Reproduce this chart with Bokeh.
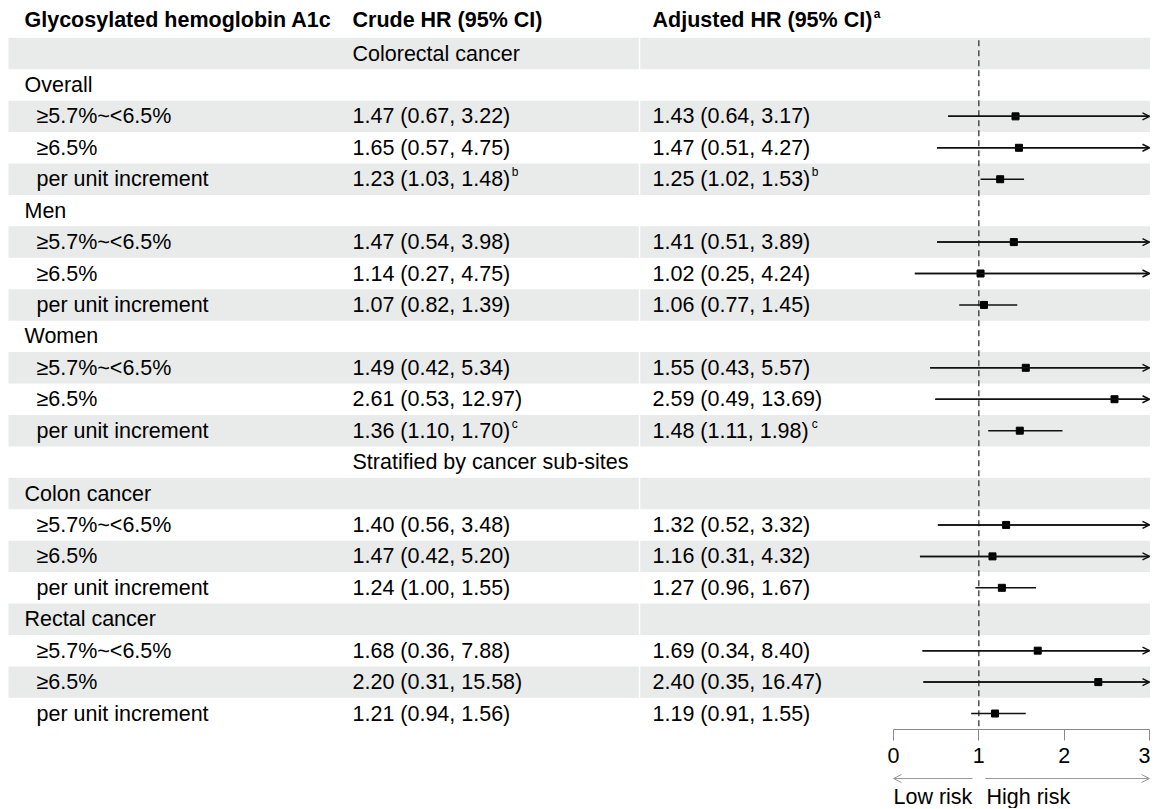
from bokeh.plotting import figure
from bokeh.models import (Range1d, LinearAxis, FixedTicker, ColumnDataSource,
                          Arrow, OpenHead, Span)
from bokeh.core.properties import value
from bokeh.embed import file_html
from bokeh.resources import INLINE

# ---------------- data ----------------
headers = ["Glycosylated hemoglobin A1c", "Crude HR (95% CI)", "Adjusted HR (95% CI)"]
header_note = "a"
sections = ["Colorectal cancer", "Stratified by cancer sub-sites"]
section_groups = [3, 2]
groups = ["Overall", "Men", "Women", "Colon cancer", "Rectal cancer"]
categories = ["≥5.7%~<6.5%", "≥6.5%", "per unit increment"]

crude_hr = [1.47, 1.65, 1.23, 1.47, 1.14, 1.07, 1.49, 2.61, 1.36, 1.40, 1.47, 1.24, 1.68, 2.20, 1.21]
crude_lo = [0.67, 0.57, 1.03, 0.54, 0.27, 0.82, 0.42, 0.53, 1.10, 0.56, 0.42, 1.00, 0.36, 0.31, 0.94]
crude_hi = [3.22, 4.75, 1.48, 3.98, 4.75, 1.39, 5.34, 12.97, 1.70, 3.48, 5.20, 1.55, 7.88, 15.58, 1.56]
adj_hr = [1.43, 1.47, 1.25, 1.41, 1.02, 1.06, 1.55, 2.59, 1.48, 1.32, 1.16, 1.27, 1.69, 2.40, 1.19]
adj_lo = [0.64, 0.51, 1.02, 0.51, 0.25, 0.77, 0.43, 0.49, 1.11, 0.52, 0.31, 0.96, 0.34, 0.35, 0.91]
adj_hi = [3.17, 4.27, 1.53, 3.89, 4.24, 1.45, 5.57, 13.69, 1.98, 3.32, 4.32, 1.67, 8.40, 16.47, 1.55]
notes = ["", "", "b", "", "", "", "", "", "c", "", "", "", "", "", ""]

x_ticks = [0, 1, 2, 3]
risk_labels = ["Low risk", "High risk"]

# ---------------- layout constants ----------------
FONT = "Liberation Sans"
FS = 21.5
SUP_FS = 12
W, H = 1150, 808
Y0, PITCH = 53.0, 31.43
BAND = "#e8ebea"
XMAX = 3.0
HR_PX0 = 893            # pixel position of HR = 0
HR_SCALE = 256 / 3      # pixels per HR unit

ARIAL = {**{d: 556 for d in "0123456789"}, ".": 278, " ": 278, "(": 333, ")": 333, ",": 278}
ARIAL_B = {"A": 722, "d": 611, "j": 278, "u": 611, "s": 556, "t": 333, "e": 556, " ": 278,
           "H": 722, "R": 722, "(": 333, "9": 556, "5": 556, "%": 889, "C": 722, "I": 278, ")": 333}


def tw(s, table):
    return sum(table.get(c, 556) for c in s) * FS / 1000.0


def fmt(h, l, u):
    return f"{h:.2f} ({l:.2f}, {u:.2f})"


# build table rows
label_txt, label_lvl, crude_txt, adj_txt, row_note, data_row, data_k = [], [], [], [], [], [], []
k = 0
gi = 0
for sec, ng in zip(sections, section_groups):
    label_txt.append(""); label_lvl.append(0); crude_txt.append(sec); adj_txt.append(""); row_note.append("")
    for g in groups[gi:gi + ng]:
        label_txt.append(g); label_lvl.append(0); crude_txt.append(""); adj_txt.append(""); row_note.append("")
        for c in categories:
            data_row.append(len(label_txt)); data_k.append(k)
            label_txt.append(c); label_lvl.append(1)
            crude_txt.append(fmt(crude_hr[k], crude_lo[k], crude_hi[k]))
            adj_txt.append(fmt(adj_hr[k], adj_lo[k], adj_hi[k]))
            row_note.append(notes[k])
            k += 1
    gi += ng

n_rows = len(label_txt)
rows_y = list(range(n_rows))
band_rows = [i for i in rows_y if i % 2 == 0]

HEADER_Y = (19 - Y0) / PITCH
AXIS_Y = (729 - Y0) / PITCH
ARROW_Y = (778 - Y0) / PITCH
RISK_Y = (796 - Y0) / PITCH

X_LBL = [24, 36]
X_CRUDE = 352
X_ADJ = 652

# ---------------- figure ----------------
p = figure(width=W, height=H, x_range=Range1d(0, W),
           y_range=Range1d((H - Y0) / PITCH, -Y0 / PITCH),
           x_axis_type=None, y_axis_type=None, output_backend="svg",
           toolbar_location=None, min_border=0, outline_line_color=None)
p.extra_x_ranges = {"hr": Range1d(-HR_PX0 / HR_SCALE, (W - HR_PX0) / HR_SCALE)}

p.hbar(y=band_rows, height=1, left=8, right=W, fill_color=BAND, line_color=None)
p.add_layout(Span(location=X_ADJ - 13, dimension="height", line_color="white", line_width=1.5))

txt_kw = dict(text_font=value(FONT), text_font_size=f"{FS}px", text_baseline="middle",
              text_align="left", text_color="#000000")

p.text(x=[X_LBL[l] for l in label_lvl], y=rows_y, text=label_txt, **txt_kw)
p.text(x=[X_CRUDE] * n_rows, y=rows_y, text=crude_txt, **txt_kw)
p.text(x=[X_ADJ] * n_rows, y=rows_y, text=adj_txt, **txt_kw)
p.text(x=[X_LBL[0], X_CRUDE, X_ADJ], y=[HEADER_Y] * 3, text=headers,
       text_font_style="bold", **txt_kw)

# superscripts
sup_x, sup_y, sup_t = [], [], []
for i, nt in enumerate(row_note):
    if nt:
        sup_x += [X_CRUDE + tw(crude_txt[i], ARIAL) + 1.5, X_ADJ + tw(adj_txt[i], ARIAL) + 1.5]
        sup_y += [i, i]
        sup_t += [nt, nt]
p.text(x=sup_x, y=sup_y, text=sup_t, text_font=value(FONT), text_font_size=f"{SUP_FS}px",
       text_baseline="alphabetic", text_align="left", text_color="#000000", y_offset=-7)
p.text(x=[X_ADJ + tw(headers[2], ARIAL_B) + 1.5], y=[HEADER_Y], text=[header_note],
       text_font=value(FONT), text_font_size=f"{SUP_FS}px", text_font_style="bold",
       text_baseline="alphabetic", text_align="left", text_color="#000000", y_offset=-6)

# ---------------- forest part (HR scale) ----------------
p.segment(x0=[1], y0=[-0.42], x1=[1], y1=[AXIS_Y], line_color="#333333",
          line_width=1.3, line_dash="6 4", x_range_name="hr")

f_y = data_row
f_hr = [adj_hr[k] for k in data_k]
f_lo = [adj_lo[k] for k in data_k]
f_hi = [min(adj_hi[k], XMAX) for k in data_k]
p.segment(x0=f_lo, y0=f_y, x1=f_hi, y1=f_y, line_color="#111111", line_width=1.5,
          x_range_name="hr")
p.scatter(x=f_hr, y=f_y, marker="square", size=7, fill_color="#000000", line_color="#000000",
          x_range_name="hr")

over = [j for j, k in enumerate(data_k) if adj_hi[k] > XMAX]
arr_src = ColumnDataSource(dict(xs=[f_lo[j] for j in over], xe=[XMAX] * len(over),
                                y=[f_y[j] for j in over]))
p.add_layout(Arrow(x_start="xs", y_start="y", x_end="xe", y_end="y", source=arr_src,
                   x_range_name="hr", line_color="#111111", line_width=1.5,
                   end=OpenHead(size=7, line_color="#111111", line_width=1.5)))

ax = LinearAxis(x_range_name="hr", fixed_location=AXIS_Y,
                ticker=FixedTicker(ticks=x_ticks), bounds=(0, 3))
ax.axis_line_color = "#888888"
ax.major_tick_line_color = "#888888"
ax.major_tick_in = 0
ax.major_tick_out = 11
ax.minor_tick_line_color = None
ax.major_label_text_font = FONT
ax.major_label_text_font_size = f"{FS}px"
ax.major_label_text_color = "#000000"
ax.major_label_standoff = 7
p.add_layout(ax, "below")

# risk arrows
gap = 0.075
p.add_layout(Arrow(x_start=1 - gap, y_start=ARROW_Y, x_end=0, y_end=ARROW_Y,
                   x_range_name="hr", line_color="#999999", line_width=1,
                   end=OpenHead(size=8, line_color="#999999", line_width=1)))
p.add_layout(Arrow(x_start=1 + gap, y_start=ARROW_Y, x_end=3, y_end=ARROW_Y,
                   x_range_name="hr", line_color="#999999", line_width=1,
                   end=OpenHead(size=8, line_color="#999999", line_width=1)))
p.text(x=[0, 1.09], y=[RISK_Y] * 2, text=risk_labels, x_range_name="hr", **txt_kw)

open("out.html", "w").write(file_html(p, INLINE))
